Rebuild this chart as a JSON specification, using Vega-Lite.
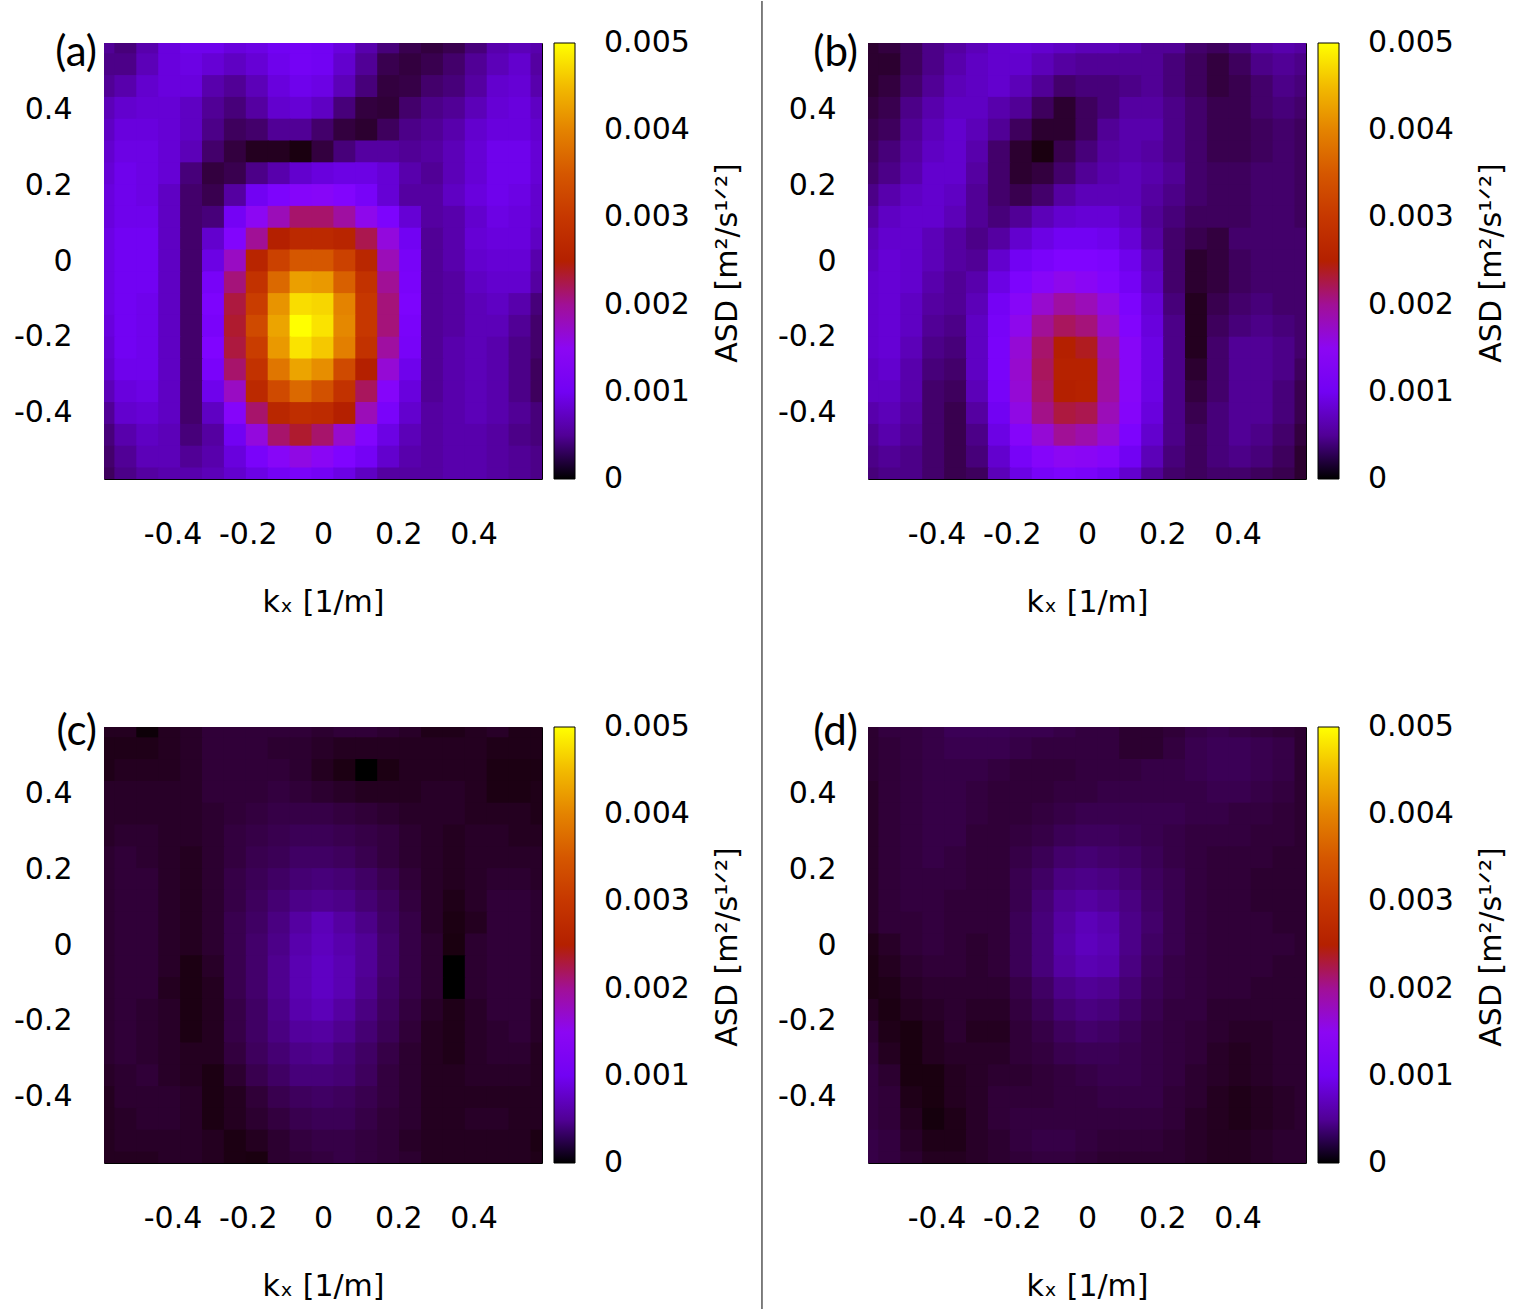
{
 "$schema": "https://vega.github.io/schema/vega-lite/v6.json",
 "padding": {"left": 13, "top": 0, "right": 0, "bottom": 0},
 "background": "white",
 "datasets": {
  "a": [
   {"ky":0.577,"kx":[-0.582,-0.5238,-0.4656,-0.4074,-0.3492,-0.291,-0.2328,-0.1746,-0.1164,-0.0582,0,0.0582,0.1164,0.1746,0.2328,0.291,0.3492,0.4074,0.4656,0.5238,0.582],"v":[0.0005,0.0004,0.0006,0.00085,0.00095,0.00095,0.00085,0.0009,0.001,0.00105,0.001,0.00085,0.0006,0.0004,0.00025,0.0002,0.00025,0.0004,0.0006,0.00065,0.0006]},
   {"ky":0.5193,"kx":[-0.582,-0.5238,-0.4656,-0.4074,-0.3492,-0.291,-0.2328,-0.1746,-0.1164,-0.0582,0,0.0582,0.1164,0.1746,0.2328,0.291,0.3492,0.4074,0.4656,0.5238,0.582],"v":[0.00045,0.00045,0.00065,0.00085,0.0009,0.0008,0.0007,0.0008,0.00095,0.00105,0.001,0.00075,0.0005,0.00025,0.0002,0.00025,0.00035,0.0005,0.00065,0.00075,0.00055]},
   {"ky":0.4616,"kx":[-0.582,-0.5238,-0.4656,-0.4074,-0.3492,-0.291,-0.2328,-0.1746,-0.1164,-0.0582,0,0.0582,0.1164,0.1746,0.2328,0.291,0.3492,0.4074,0.4656,0.5238,0.582],"v":[0.0005,0.0006,0.00075,0.00085,0.00085,0.0006,0.0005,0.00065,0.00085,0.00095,0.0009,0.00065,0.0004,0.0002,0.000225,0.00035,0.0004,0.00055,0.00075,0.0008,0.0006]},
   {"ky":0.4039,"kx":[-0.582,-0.5238,-0.4656,-0.4074,-0.3492,-0.291,-0.2328,-0.1746,-0.1164,-0.0582,0,0.0582,0.1164,0.1746,0.2328,0.291,0.3492,0.4074,0.4656,0.5238,0.582],"v":[0.00065,0.00075,0.0008,0.0008,0.0007,0.0005,0.0004,0.00055,0.00075,0.0008,0.0007,0.0004,0.0002,0.000175,0.00035,0.00045,0.0005,0.00065,0.0008,0.00085,0.0007]},
   {"ky":0.3462,"kx":[-0.582,-0.5238,-0.4656,-0.4074,-0.3492,-0.291,-0.2328,-0.1746,-0.1164,-0.0582,0,0.0582,0.1164,0.1746,0.2328,0.291,0.3492,0.4074,0.4656,0.5238,0.582],"v":[0.0007,0.00085,0.00085,0.0008,0.0007,0.00045,0.0003,0.00035,0.0005,0.0005,0.00035,0.0002,0.00015,0.0003,0.00045,0.0005,0.0006,0.00075,0.00085,0.00085,0.00075]},
   {"ky":0.2885,"kx":[-0.582,-0.5238,-0.4656,-0.4074,-0.3492,-0.291,-0.2328,-0.1746,-0.1164,-0.0582,0,0.0582,0.1164,0.1746,0.2328,0.291,0.3492,0.4074,0.4656,0.5238,0.582],"v":[0.00075,0.0009,0.0009,0.0008,0.00065,0.00035,0.0002,0.0001,0.0001,0.00005,0.0002,0.0004,0.00055,0.00055,0.0005,0.00055,0.00065,0.0008,0.00095,0.00095,0.0008]},
   {"ky":0.2308,"kx":[-0.582,-0.5238,-0.4656,-0.4074,-0.3492,-0.291,-0.2328,-0.1746,-0.1164,-0.0582,0,0.0582,0.1164,0.1746,0.2328,0.291,0.3492,0.4074,0.4656,0.5238,0.582],"v":[0.0008,0.00095,0.0009,0.0008,0.0004,0.0002,0.00025,0.00045,0.0006,0.00075,0.00085,0.0009,0.0009,0.0008,0.0006,0.0005,0.00065,0.0008,0.00095,0.00095,0.0008]},
   {"ky":0.1731,"kx":[-0.582,-0.5238,-0.4656,-0.4074,-0.3492,-0.291,-0.2328,-0.1746,-0.1164,-0.0582,0,0.0582,0.1164,0.1746,0.2328,0.291,0.3492,0.4074,0.4656,0.5238,0.582],"v":[0.00085,0.00095,0.0009,0.0007,0.00035,0.00025,0.00055,0.001,0.0012,0.00135,0.0014,0.0013,0.0011,0.0008,0.00055,0.00055,0.0007,0.00085,0.00095,0.0009,0.00075]},
   {"ky":0.1154,"kx":[-0.582,-0.5238,-0.4656,-0.4074,-0.3492,-0.291,-0.2328,-0.1746,-0.1164,-0.0582,0,0.0582,0.1164,0.1746,0.2328,0.291,0.3492,0.4074,0.4656,0.5238,0.582],"v":[0.00085,0.00095,0.00095,0.0007,0.00035,0.0004,0.00105,0.0015,0.00185,0.00215,0.00215,0.00195,0.00155,0.0012,0.0008,0.00055,0.0006,0.00075,0.0009,0.00085,0.00075]},
   {"ky":0.0577,"kx":[-0.582,-0.5238,-0.4656,-0.4074,-0.3492,-0.291,-0.2328,-0.1746,-0.1164,-0.0582,0,0.0582,0.1164,0.1746,0.2328,0.291,0.3492,0.4074,0.4656,0.5238,0.582],"v":[0.0009,0.001,0.001,0.0007,0.00035,0.00075,0.0013,0.002,0.0025,0.0027,0.0027,0.0026,0.00225,0.00165,0.001,0.0005,0.0006,0.0008,0.00085,0.00085,0.0007]},
   {"ky":0,"kx":[-0.582,-0.5238,-0.4656,-0.4074,-0.3492,-0.291,-0.2328,-0.1746,-0.1164,-0.0582,0,0.0582,0.1164,0.1746,0.2328,0.291,0.3492,0.4074,0.4656,0.5238,0.582],"v":[0.0009,0.001,0.001,0.0007,0.00035,0.0009,0.0018,0.0026,0.00315,0.0035,0.0035,0.00315,0.00265,0.00185,0.0011,0.0005,0.0006,0.00075,0.0008,0.0008,0.0006]},
   {"ky":-0.0577,"kx":[-0.582,-0.5238,-0.4656,-0.4074,-0.3492,-0.291,-0.2328,-0.1746,-0.1164,-0.0582,0,0.0582,0.1164,0.1746,0.2328,0.291,0.3492,0.4074,0.4656,0.5238,0.582],"v":[0.0009,0.001,0.001,0.0007,0.00035,0.0011,0.0021,0.0029,0.0037,0.00425,0.0042,0.0036,0.0029,0.002,0.00115,0.0005,0.00055,0.0007,0.00075,0.00075,0.00055]},
   {"ky":-0.1154,"kx":[-0.582,-0.5238,-0.4656,-0.4074,-0.3492,-0.291,-0.2328,-0.1746,-0.1164,-0.0582,0,0.0582,0.1164,0.1746,0.2328,0.291,0.3492,0.4074,0.4656,0.5238,0.582],"v":[0.0009,0.001,0.00095,0.0007,0.00035,0.0012,0.0023,0.0031,0.00415,0.00475,0.0047,0.004,0.003,0.0021,0.0012,0.0005,0.00055,0.00065,0.0007,0.0006,0.0004]},
   {"ky":-0.1731,"kx":[-0.582,-0.5238,-0.4656,-0.4074,-0.3492,-0.291,-0.2328,-0.1746,-0.1164,-0.0582,0,0.0582,0.1164,0.1746,0.2328,0.291,0.3492,0.4074,0.4656,0.5238,0.582],"v":[0.00085,0.001,0.00095,0.0007,0.00035,0.00115,0.00235,0.0033,0.0043,0.005,0.0048,0.00405,0.003,0.0021,0.00115,0.0005,0.00055,0.00065,0.00065,0.0005,0.00035]},
   {"ky":-0.2308,"kx":[-0.582,-0.5238,-0.4656,-0.4074,-0.3492,-0.291,-0.2328,-0.1746,-0.1164,-0.0582,0,0.0582,0.1164,0.1746,0.2328,0.291,0.3492,0.4074,0.4656,0.5238,0.582],"v":[0.0008,0.001,0.00095,0.0007,0.00035,0.00125,0.0023,0.0031,0.0042,0.0048,0.0046,0.00395,0.0029,0.00195,0.0011,0.0005,0.0006,0.00065,0.0006,0.00045,0.00035]},
   {"ky":-0.2885,"kx":[-0.582,-0.5238,-0.4656,-0.4074,-0.3492,-0.291,-0.2328,-0.1746,-0.1164,-0.0582,0,0.0582,0.1164,0.1746,0.2328,0.291,0.3492,0.4074,0.4656,0.5238,0.582],"v":[0.00075,0.00095,0.00095,0.0007,0.00035,0.00115,0.00215,0.0029,0.00385,0.0043,0.0041,0.0033,0.0025,0.0017,0.00095,0.0005,0.0006,0.00065,0.0006,0.00045,0.0003]},
   {"ky":-0.3462,"kx":[-0.582,-0.5238,-0.4656,-0.4074,-0.3492,-0.291,-0.2328,-0.1746,-0.1164,-0.0582,0,0.0582,0.1164,0.1746,0.2328,0.291,0.3492,0.4074,0.4656,0.5238,0.582],"v":[0.00065,0.00085,0.0009,0.0007,0.00035,0.00095,0.0018,0.0027,0.0033,0.0037,0.0034,0.0029,0.0022,0.00135,0.00085,0.0005,0.0006,0.00065,0.0006,0.00045,0.0003]},
   {"ky":-0.4039,"kx":[-0.582,-0.5238,-0.4656,-0.4074,-0.3492,-0.291,-0.2328,-0.1746,-0.1164,-0.0582,0,0.0582,0.1164,0.1746,0.2328,0.291,0.3492,0.4074,0.4656,0.5238,0.582],"v":[0.0005,0.00075,0.0008,0.0007,0.00035,0.0007,0.00135,0.00215,0.00265,0.0028,0.00275,0.0025,0.00185,0.00115,0.00075,0.00055,0.0006,0.00065,0.0006,0.0005,0.0004]},
   {"ky":-0.4616,"kx":[-0.582,-0.5238,-0.4656,-0.4074,-0.3492,-0.291,-0.2328,-0.1746,-0.1164,-0.0582,0,0.0582,0.1164,0.1746,0.2328,0.291,0.3492,0.4074,0.4656,0.5238,0.582],"v":[0.0004,0.0006,0.0007,0.00065,0.0004,0.00055,0.001,0.00165,0.00215,0.00235,0.00215,0.00175,0.0013,0.0009,0.00065,0.00055,0.0006,0.0006,0.00055,0.00045,0.0004]},
   {"ky":-0.5193,"kx":[-0.582,-0.5238,-0.4656,-0.4074,-0.3492,-0.291,-0.2328,-0.1746,-0.1164,-0.0582,0,0.0582,0.1164,0.1746,0.2328,0.291,0.3492,0.4074,0.4656,0.5238,0.582],"v":[0.00035,0.0005,0.00065,0.00065,0.0005,0.0006,0.00085,0.00115,0.0014,0.0016,0.00145,0.00125,0.00105,0.00075,0.0006,0.00055,0.0006,0.0006,0.00055,0.0005,0.00045]},
   {"ky":-0.577,"kx":[-0.582,-0.5238,-0.4656,-0.4074,-0.3492,-0.291,-0.2328,-0.1746,-0.1164,-0.0582,0,0.0582,0.1164,0.1746,0.2328,0.291,0.3492,0.4074,0.4656,0.5238,0.582],"v":[0.0003,0.00045,0.00055,0.0006,0.0006,0.00065,0.00075,0.0009,0.00105,0.00115,0.00105,0.0009,0.0007,0.00055,0.00055,0.00055,0.0006,0.0006,0.00055,0.0005,0.00045]}
  ],
  "b": [
   {"ky":0.577,"kx":[-0.582,-0.5238,-0.4656,-0.4074,-0.3492,-0.291,-0.2328,-0.1746,-0.1164,-0.0582,0,0.0582,0.1164,0.1746,0.2328,0.291,0.3492,0.4074,0.4656,0.5238,0.582],"v":[0.00015,0.0002,0.0003,0.00045,0.00055,0.00065,0.00075,0.0008,0.00075,0.0007,0.00065,0.00065,0.0006,0.0005,0.0005,0.00035,0.0003,0.0004,0.00055,0.0006,0.00055]},
   {"ky":0.5193,"kx":[-0.582,-0.5238,-0.4656,-0.4074,-0.3492,-0.291,-0.2328,-0.1746,-0.1164,-0.0582,0,0.0582,0.1164,0.1746,0.2328,0.291,0.3492,0.4074,0.4656,0.5238,0.582],"v":[0.00015,0.00015,0.0003,0.00045,0.0006,0.0007,0.00075,0.00075,0.00065,0.00055,0.0005,0.0005,0.0005,0.0005,0.0004,0.0003,0.0002,0.0003,0.00045,0.0005,0.00045]},
   {"ky":0.4616,"kx":[-0.582,-0.5238,-0.4656,-0.4074,-0.3492,-0.291,-0.2328,-0.1746,-0.1164,-0.0582,0,0.0582,0.1164,0.1746,0.2328,0.291,0.3492,0.4074,0.4656,0.5238,0.582],"v":[0.00015,0.0002,0.00035,0.0005,0.00065,0.0007,0.00075,0.00065,0.0005,0.00035,0.0004,0.0004,0.00045,0.0005,0.0004,0.0003,0.0002,0.00025,0.00035,0.00045,0.0004]},
   {"ky":0.4039,"kx":[-0.582,-0.5238,-0.4656,-0.4074,-0.3492,-0.291,-0.2328,-0.1746,-0.1164,-0.0582,0,0.0582,0.1164,0.1746,0.2328,0.291,0.3492,0.4074,0.4656,0.5238,0.582],"v":[0.0002,0.00025,0.00045,0.0006,0.0007,0.0007,0.0006,0.0005,0.0003,0.00015,0.0003,0.0004,0.00055,0.00055,0.00045,0.00035,0.00025,0.00025,0.00035,0.0004,0.00035]},
   {"ky":0.3462,"kx":[-0.582,-0.5238,-0.4656,-0.4074,-0.3492,-0.291,-0.2328,-0.1746,-0.1164,-0.0582,0,0.0582,0.1164,0.1746,0.2328,0.291,0.3492,0.4074,0.4656,0.5238,0.582],"v":[0.00025,0.0003,0.0005,0.00065,0.00075,0.00065,0.0005,0.0003,0.00015,0.00015,0.0003,0.0005,0.0006,0.0006,0.00045,0.00035,0.00025,0.00025,0.0003,0.00035,0.0003]},
   {"ky":0.2885,"kx":[-0.582,-0.5238,-0.4656,-0.4074,-0.3492,-0.291,-0.2328,-0.1746,-0.1164,-0.0582,0,0.0582,0.1164,0.1746,0.2328,0.291,0.3492,0.4074,0.4656,0.5238,0.582],"v":[0.0003,0.0004,0.00055,0.0007,0.00075,0.0006,0.00035,0.00015,0.00005,0.00025,0.0004,0.00055,0.0006,0.00055,0.00045,0.00035,0.00025,0.00025,0.0003,0.00035,0.0003]},
   {"ky":0.2308,"kx":[-0.582,-0.5238,-0.4656,-0.4074,-0.3492,-0.291,-0.2328,-0.1746,-0.1164,-0.0582,0,0.0582,0.1164,0.1746,0.2328,0.291,0.3492,0.4074,0.4656,0.5238,0.582],"v":[0.00035,0.00045,0.0006,0.00075,0.00075,0.00055,0.00035,0.00015,0.0002,0.00035,0.0005,0.0006,0.00065,0.0006,0.0005,0.00035,0.0003,0.0003,0.00035,0.00035,0.0003]},
   {"ky":0.1731,"kx":[-0.582,-0.5238,-0.4656,-0.4074,-0.3492,-0.291,-0.2328,-0.1746,-0.1164,-0.0582,0,0.0582,0.1164,0.1746,0.2328,0.291,0.3492,0.4074,0.4656,0.5238,0.582],"v":[0.00045,0.0006,0.0007,0.00075,0.0007,0.0005,0.00035,0.00025,0.00035,0.00055,0.00065,0.00065,0.00065,0.00055,0.00045,0.00035,0.0003,0.0003,0.00035,0.00035,0.0003]},
   {"ky":0.1154,"kx":[-0.582,-0.5238,-0.4656,-0.4074,-0.3492,-0.291,-0.2328,-0.1746,-0.1164,-0.0582,0,0.0582,0.1164,0.1746,0.2328,0.291,0.3492,0.4074,0.4656,0.5238,0.582],"v":[0.00055,0.0007,0.00075,0.00075,0.00065,0.0005,0.0004,0.0005,0.00065,0.00075,0.0008,0.0008,0.0007,0.0005,0.0004,0.0003,0.0003,0.0003,0.00035,0.00035,0.0003]},
   {"ky":0.0577,"kx":[-0.582,-0.5238,-0.4656,-0.4074,-0.3492,-0.291,-0.2328,-0.1746,-0.1164,-0.0582,0,0.0582,0.1164,0.1746,0.2328,0.291,0.3492,0.4074,0.4656,0.5238,0.582],"v":[0.00065,0.00075,0.00075,0.00065,0.00055,0.00045,0.00055,0.00075,0.0009,0.001,0.001,0.00095,0.0008,0.00055,0.00035,0.00025,0.0002,0.00035,0.00035,0.00035,0.00035]},
   {"ky":0,"kx":[-0.582,-0.5238,-0.4656,-0.4074,-0.3492,-0.291,-0.2328,-0.1746,-0.1164,-0.0582,0,0.0582,0.1164,0.1746,0.2328,0.291,0.3492,0.4074,0.4656,0.5238,0.582],"v":[0.0007,0.0008,0.00075,0.00065,0.00055,0.0005,0.00075,0.001,0.00115,0.00125,0.00125,0.0012,0.00095,0.00065,0.00035,0.00015,0.0002,0.0003,0.00035,0.00035,0.00035]},
   {"ky":-0.0577,"kx":[-0.582,-0.5238,-0.4656,-0.4074,-0.3492,-0.291,-0.2328,-0.1746,-0.1164,-0.0582,0,0.0582,0.1164,0.1746,0.2328,0.291,0.3492,0.4074,0.4656,0.5238,0.582],"v":[0.00075,0.0008,0.00075,0.0006,0.0005,0.0006,0.0009,0.0012,0.0014,0.00155,0.00145,0.0013,0.00105,0.0007,0.00035,0.00015,0.0002,0.0003,0.00035,0.00035,0.00035]},
   {"ky":-0.1154,"kx":[-0.582,-0.5238,-0.4656,-0.4074,-0.3492,-0.291,-0.2328,-0.1746,-0.1164,-0.0582,0,0.0582,0.1164,0.1746,0.2328,0.291,0.3492,0.4074,0.4656,0.5238,0.582],"v":[0.00075,0.0008,0.0007,0.00055,0.0005,0.00065,0.00105,0.0014,0.00175,0.00195,0.00185,0.0016,0.0012,0.0008,0.0004,0.0001,0.00025,0.00035,0.0004,0.00035,0.00035]},
   {"ky":-0.1731,"kx":[-0.582,-0.5238,-0.4656,-0.4074,-0.3492,-0.291,-0.2328,-0.1746,-0.1164,-0.0582,0,0.0582,0.1164,0.1746,0.2328,0.291,0.3492,0.4074,0.4656,0.5238,0.582],"v":[0.00075,0.0008,0.0007,0.0005,0.00045,0.0007,0.0011,0.00155,0.002,0.0022,0.0021,0.00175,0.0013,0.00085,0.00045,0.0001,0.0003,0.0004,0.00045,0.0004,0.00035]},
   {"ky":-0.2308,"kx":[-0.582,-0.5238,-0.4656,-0.4074,-0.3492,-0.291,-0.2328,-0.1746,-0.1164,-0.0582,0,0.0582,0.1164,0.1746,0.2328,0.291,0.3492,0.4074,0.4656,0.5238,0.582],"v":[0.00075,0.0008,0.00065,0.00045,0.0004,0.0007,0.00115,0.0017,0.00215,0.0025,0.0024,0.0019,0.0014,0.0009,0.00045,0.0001,0.00035,0.0005,0.0005,0.00045,0.00035]},
   {"ky":-0.2885,"kx":[-0.582,-0.5238,-0.4656,-0.4074,-0.3492,-0.291,-0.2328,-0.1746,-0.1164,-0.0582,0,0.0582,0.1164,0.1746,0.2328,0.291,0.3492,0.4074,0.4656,0.5238,0.582],"v":[0.0007,0.00075,0.0006,0.0004,0.00035,0.0007,0.00115,0.00175,0.0022,0.00255,0.00255,0.00195,0.0014,0.0009,0.00045,0.00015,0.00035,0.0005,0.0005,0.00045,0.0003]},
   {"ky":-0.3462,"kx":[-0.582,-0.5238,-0.4656,-0.4074,-0.3492,-0.291,-0.2328,-0.1746,-0.1164,-0.0582,0,0.0582,0.1164,0.1746,0.2328,0.291,0.3492,0.4074,0.4656,0.5238,0.582],"v":[0.0007,0.0007,0.0006,0.00035,0.0003,0.00065,0.0011,0.0017,0.00215,0.0025,0.00255,0.00195,0.0014,0.0009,0.00045,0.0002,0.00035,0.0005,0.0005,0.0004,0.00025]},
   {"ky":-0.4039,"kx":[-0.582,-0.5238,-0.4656,-0.4074,-0.3492,-0.291,-0.2328,-0.1746,-0.1164,-0.0582,0,0.0582,0.1164,0.1746,0.2328,0.291,0.3492,0.4074,0.4656,0.5238,0.582],"v":[0.0006,0.00065,0.00055,0.00035,0.00025,0.00055,0.001,0.0016,0.00205,0.0023,0.00225,0.00185,0.00135,0.00085,0.00045,0.00025,0.0004,0.0005,0.0005,0.0004,0.00025]},
   {"ky":-0.4616,"kx":[-0.582,-0.5238,-0.4656,-0.4074,-0.3492,-0.291,-0.2328,-0.1746,-0.1164,-0.0582,0,0.0582,0.1164,0.1746,0.2328,0.291,0.3492,0.4074,0.4656,0.5238,0.582],"v":[0.0005,0.0006,0.0005,0.00035,0.00025,0.00045,0.0009,0.00135,0.0017,0.002,0.0019,0.0017,0.0012,0.00075,0.00045,0.0003,0.0004,0.0005,0.00045,0.00035,0.0002]},
   {"ky":-0.5193,"kx":[-0.582,-0.5238,-0.4656,-0.4074,-0.3492,-0.291,-0.2328,-0.1746,-0.1164,-0.0582,0,0.0582,0.1164,0.1746,0.2328,0.291,0.3492,0.4074,0.4656,0.5238,0.582],"v":[0.00045,0.0005,0.00045,0.00035,0.00025,0.0004,0.00075,0.0011,0.00135,0.0015,0.00145,0.00135,0.001,0.00065,0.0004,0.0003,0.0004,0.00045,0.0004,0.0003,0.00015]},
   {"ky":-0.577,"kx":[-0.582,-0.5238,-0.4656,-0.4074,-0.3492,-0.291,-0.2328,-0.1746,-0.1164,-0.0582,0,0.0582,0.1164,0.1746,0.2328,0.291,0.3492,0.4074,0.4656,0.5238,0.582],"v":[0.0004,0.00045,0.00045,0.00035,0.00025,0.0003,0.00065,0.0009,0.0011,0.0012,0.00115,0.001,0.00075,0.0005,0.00035,0.0003,0.00035,0.00035,0.0003,0.00025,0.00015]}
  ],
  "c": [
   {"ky":0.577,"kx":[-0.582,-0.5238,-0.4656,-0.4074,-0.3492,-0.291,-0.2328,-0.1746,-0.1164,-0.0582,0,0.0582,0.1164,0.1746,0.2328,0.291,0.3492,0.4074,0.4656,0.5238,0.582],"v":[0.0001,0.0001,0.000025,0.0001,0.000125,0.000175,0.000175,0.000175,0.000175,0.000175,0.00015,0.000175,0.000175,0.00015,0.000125,0.000075,0.000075,0.0001,0.000125,0.000075,0.000075]},
   {"ky":0.5193,"kx":[-0.582,-0.5238,-0.4656,-0.4074,-0.3492,-0.291,-0.2328,-0.1746,-0.1164,-0.0582,0,0.0582,0.1164,0.1746,0.2328,0.291,0.3492,0.4074,0.4656,0.5238,0.582],"v":[0.000075,0.000075,0.000075,0.0001,0.000125,0.000175,0.000175,0.000175,0.00015,0.00015,0.000125,0.0001,0.0001,0.0001,0.0001,0.0001,0.0001,0.0001,0.000075,0.000075,0.000075]},
   {"ky":0.4616,"kx":[-0.582,-0.5238,-0.4656,-0.4074,-0.3492,-0.291,-0.2328,-0.1746,-0.1164,-0.0582,0,0.0582,0.1164,0.1746,0.2328,0.291,0.3492,0.4074,0.4656,0.5238,0.582],"v":[0.000075,0.0001,0.0001,0.0001,0.000125,0.000175,0.000175,0.000175,0.000175,0.00015,0.0001,0.00006,0,0.00006,0.0001,0.0001,0.0001,0.0001,0.00006,0.00006,0.00006]},
   {"ky":0.4039,"kx":[-0.582,-0.5238,-0.4656,-0.4074,-0.3492,-0.291,-0.2328,-0.1746,-0.1164,-0.0582,0,0.0582,0.1164,0.1746,0.2328,0.291,0.3492,0.4074,0.4656,0.5238,0.582],"v":[0.000125,0.000125,0.000125,0.000125,0.000125,0.000175,0.000175,0.000175,0.0002,0.000175,0.00015,0.000125,0.0001,0.0001,0.0001,0.000125,0.000125,0.0001,0.00006,0.00006,0.000075]},
   {"ky":0.3462,"kx":[-0.582,-0.5238,-0.4656,-0.4074,-0.3492,-0.291,-0.2328,-0.1746,-0.1164,-0.0582,0,0.0582,0.1164,0.1746,0.2328,0.291,0.3492,0.4074,0.4656,0.5238,0.582],"v":[0.000125,0.000125,0.000125,0.000125,0.000125,0.00015,0.000175,0.0002,0.000225,0.000225,0.000225,0.0002,0.000175,0.00015,0.000125,0.000125,0.000125,0.0001,0.0001,0.0001,0.000075]},
   {"ky":0.2885,"kx":[-0.582,-0.5238,-0.4656,-0.4074,-0.3492,-0.291,-0.2328,-0.1746,-0.1164,-0.0582,0,0.0582,0.1164,0.1746,0.2328,0.291,0.3492,0.4074,0.4656,0.5238,0.582],"v":[0.000125,0.00015,0.00015,0.000125,0.000125,0.00015,0.0002,0.000225,0.00025,0.000275,0.000275,0.00025,0.000225,0.0002,0.00015,0.000125,0.0001,0.000125,0.000125,0.0001,0.0001]},
   {"ky":0.2308,"kx":[-0.582,-0.5238,-0.4656,-0.4074,-0.3492,-0.291,-0.2328,-0.1746,-0.1164,-0.0582,0,0.0582,0.1164,0.1746,0.2328,0.291,0.3492,0.4074,0.4656,0.5238,0.582],"v":[0.00015,0.000175,0.00015,0.000125,0.0001,0.00015,0.0002,0.00025,0.000275,0.000325,0.000325,0.0003,0.00025,0.0002,0.00015,0.000125,0.0001,0.000125,0.000125,0.000125,0.000125]},
   {"ky":0.1731,"kx":[-0.582,-0.5238,-0.4656,-0.4074,-0.3492,-0.291,-0.2328,-0.1746,-0.1164,-0.0582,0,0.0582,0.1164,0.1746,0.2328,0.291,0.3492,0.4074,0.4656,0.5238,0.582],"v":[0.00015,0.000175,0.000175,0.000125,0.0001,0.00015,0.000225,0.000275,0.000325,0.000375,0.0004,0.000375,0.000325,0.00025,0.000175,0.000125,0.0001,0.000125,0.00015,0.00015,0.000125]},
   {"ky":0.1154,"kx":[-0.582,-0.5238,-0.4656,-0.4074,-0.3492,-0.291,-0.2328,-0.1746,-0.1164,-0.0582,0,0.0582,0.1164,0.1746,0.2328,0.291,0.3492,0.4074,0.4656,0.5238,0.582],"v":[0.00015,0.000175,0.000175,0.000125,0.0001,0.00015,0.000225,0.0003,0.000375,0.00045,0.000475,0.00045,0.000375,0.0003,0.0002,0.000125,0.000075,0.000125,0.000175,0.000175,0.00015]},
   {"ky":0.0577,"kx":[-0.582,-0.5238,-0.4656,-0.4074,-0.3492,-0.291,-0.2328,-0.1746,-0.1164,-0.0582,0,0.0582,0.1164,0.1746,0.2328,0.291,0.3492,0.4074,0.4656,0.5238,0.582],"v":[0.00015,0.000175,0.000175,0.000125,0.0001,0.00015,0.00025,0.000325,0.000425,0.00055,0.00065,0.00055,0.00045,0.000325,0.000225,0.000125,0.00006,0.0001,0.000175,0.000175,0.00015]},
   {"ky":0,"kx":[-0.582,-0.5238,-0.4656,-0.4074,-0.3492,-0.291,-0.2328,-0.1746,-0.1164,-0.0582,0,0.0582,0.1164,0.1746,0.2328,0.291,0.3492,0.4074,0.4656,0.5238,0.582],"v":[0.00015,0.000175,0.000175,0.000125,0.0001,0.00015,0.00025,0.00035,0.00045,0.0006,0.000675,0.0006,0.0005,0.00035,0.000225,0.00015,0.00005,0.00015,0.000175,0.000175,0.00015]},
   {"ky":-0.0577,"kx":[-0.582,-0.5238,-0.4656,-0.4074,-0.3492,-0.291,-0.2328,-0.1746,-0.1164,-0.0582,0,0.0582,0.1164,0.1746,0.2328,0.291,0.3492,0.4074,0.4656,0.5238,0.582],"v":[0.00015,0.000175,0.000175,0.000125,0.00006,0.000125,0.00025,0.00035,0.000475,0.000625,0.0007,0.000625,0.0005,0.00035,0.000225,0.00015,0,0.00015,0.000175,0.000175,0.00015]},
   {"ky":-0.1154,"kx":[-0.582,-0.5238,-0.4656,-0.4074,-0.3492,-0.291,-0.2328,-0.1746,-0.1164,-0.0582,0,0.0582,0.1164,0.1746,0.2328,0.291,0.3492,0.4074,0.4656,0.5238,0.582],"v":[0.00015,0.000175,0.000175,0.0001,0.00006,0.0001,0.00025,0.00035,0.000475,0.000625,0.0007,0.000625,0.000475,0.000325,0.000225,0.00015,0,0.00015,0.000175,0.000175,0.00015]},
   {"ky":-0.1731,"kx":[-0.582,-0.5238,-0.4656,-0.4074,-0.3492,-0.291,-0.2328,-0.1746,-0.1164,-0.0582,0,0.0582,0.1164,0.1746,0.2328,0.291,0.3492,0.4074,0.4656,0.5238,0.582],"v":[0.00015,0.000175,0.00015,0.000125,0.00006,0.0001,0.000225,0.000325,0.00045,0.0006,0.00065,0.00055,0.000425,0.0003,0.0002,0.000125,0.000075,0.000125,0.000175,0.000175,0.000125]},
   {"ky":-0.2308,"kx":[-0.582,-0.5238,-0.4656,-0.4074,-0.3492,-0.291,-0.2328,-0.1746,-0.1164,-0.0582,0,0.0582,0.1164,0.1746,0.2328,0.291,0.3492,0.4074,0.4656,0.5238,0.582],"v":[0.00015,0.000175,0.00015,0.000125,0.00006,0.0001,0.000225,0.000325,0.000425,0.000525,0.00055,0.000475,0.000375,0.000275,0.000175,0.0001,0.000075,0.000125,0.00015,0.000175,0.000125]},
   {"ky":-0.2885,"kx":[-0.582,-0.5238,-0.4656,-0.4074,-0.3492,-0.291,-0.2328,-0.1746,-0.1164,-0.0582,0,0.0582,0.1164,0.1746,0.2328,0.291,0.3492,0.4074,0.4656,0.5238,0.582],"v":[0.00015,0.000175,0.00015,0.000125,0.0001,0.0001,0.0002,0.0003,0.000375,0.00045,0.000475,0.0004,0.000325,0.000225,0.00015,0.0001,0.000075,0.000125,0.00015,0.00015,0.0001]},
   {"ky":-0.3462,"kx":[-0.582,-0.5238,-0.4656,-0.4074,-0.3492,-0.291,-0.2328,-0.1746,-0.1164,-0.0582,0,0.0582,0.1164,0.1746,0.2328,0.291,0.3492,0.4074,0.4656,0.5238,0.582],"v":[0.000125,0.00015,0.000175,0.000125,0.0001,0.00006,0.00015,0.00025,0.000325,0.0004,0.0004,0.000375,0.0003,0.0002,0.00015,0.0001,0.0001,0.000125,0.000125,0.000125,0.0001]},
   {"ky":-0.4039,"kx":[-0.582,-0.5238,-0.4656,-0.4074,-0.3492,-0.291,-0.2328,-0.1746,-0.1164,-0.0582,0,0.0582,0.1164,0.1746,0.2328,0.291,0.3492,0.4074,0.4656,0.5238,0.582],"v":[0.0001,0.00015,0.00015,0.00015,0.000125,0.00006,0.0001,0.000175,0.00025,0.0003,0.000325,0.0003,0.00025,0.0002,0.00015,0.0001,0.0001,0.0001,0.0001,0.0001,0.0001]},
   {"ky":-0.4616,"kx":[-0.582,-0.5238,-0.4656,-0.4074,-0.3492,-0.291,-0.2328,-0.1746,-0.1164,-0.0582,0,0.0582,0.1164,0.1746,0.2328,0.291,0.3492,0.4074,0.4656,0.5238,0.582],"v":[0.0001,0.000125,0.00015,0.00015,0.000125,0.00006,0.0001,0.00015,0.0002,0.00025,0.000275,0.000275,0.000225,0.000175,0.00015,0.0001,0.0001,0.000125,0.000125,0.0001,0.0001]},
   {"ky":-0.5193,"kx":[-0.582,-0.5238,-0.4656,-0.4074,-0.3492,-0.291,-0.2328,-0.1746,-0.1164,-0.0582,0,0.0582,0.1164,0.1746,0.2328,0.291,0.3492,0.4074,0.4656,0.5238,0.582],"v":[0.0001,0.000125,0.000125,0.000125,0.000125,0.0001,0.00006,0.0001,0.00015,0.0002,0.000225,0.000225,0.0002,0.000175,0.000125,0.0001,0.0001,0.0001,0.0001,0.0001,0.00006]},
   {"ky":-0.577,"kx":[-0.582,-0.5238,-0.4656,-0.4074,-0.3492,-0.291,-0.2328,-0.1746,-0.1164,-0.0582,0,0.0582,0.1164,0.1746,0.2328,0.291,0.3492,0.4074,0.4656,0.5238,0.582],"v":[0.0001,0.0001,0.0001,0.000125,0.000125,0.0001,0.00006,0.00005,0.00015,0.000175,0.0002,0.000225,0.0002,0.000175,0.00015,0.0001,0.0001,0.0001,0.0001,0.0001,0.000075]}
  ],
  "d": [
   {"ky":0.577,"kx":[-0.582,-0.5238,-0.4656,-0.4074,-0.3492,-0.291,-0.2328,-0.1746,-0.1164,-0.0582,0,0.0582,0.1164,0.1746,0.2328,0.291,0.3492,0.4074,0.4656,0.5238,0.582],"v":[0.00015,0.0002,0.0002,0.000225,0.000275,0.000275,0.000275,0.00025,0.00025,0.000225,0.0002,0.0002,0.00015,0.00015,0.000175,0.000225,0.00025,0.000225,0.0002,0.000175,0.00015]},
   {"ky":0.5193,"kx":[-0.582,-0.5238,-0.4656,-0.4074,-0.3492,-0.291,-0.2328,-0.1746,-0.1164,-0.0582,0,0.0582,0.1164,0.1746,0.2328,0.291,0.3492,0.4074,0.4656,0.5238,0.582],"v":[0.00015,0.000175,0.0002,0.000225,0.00025,0.00025,0.00025,0.000225,0.0002,0.0002,0.0002,0.0002,0.00015,0.00015,0.0002,0.00025,0.000275,0.000275,0.00025,0.000225,0.00015]},
   {"ky":0.4616,"kx":[-0.582,-0.5238,-0.4656,-0.4074,-0.3492,-0.291,-0.2328,-0.1746,-0.1164,-0.0582,0,0.0582,0.1164,0.1746,0.2328,0.291,0.3492,0.4074,0.4656,0.5238,0.582],"v":[0.00015,0.000175,0.0002,0.000225,0.000225,0.000225,0.0002,0.000175,0.000175,0.000175,0.0002,0.0002,0.0002,0.000225,0.000225,0.00025,0.000275,0.000275,0.00025,0.000225,0.00015]},
   {"ky":0.4039,"kx":[-0.582,-0.5238,-0.4656,-0.4074,-0.3492,-0.291,-0.2328,-0.1746,-0.1164,-0.0582,0,0.0582,0.1164,0.1746,0.2328,0.291,0.3492,0.4074,0.4656,0.5238,0.582],"v":[0.000125,0.000175,0.0002,0.000225,0.000225,0.0002,0.000175,0.000175,0.000175,0.0002,0.0002,0.000225,0.000225,0.000225,0.000225,0.000225,0.00025,0.00025,0.000225,0.0002,0.00015]},
   {"ky":0.3462,"kx":[-0.582,-0.5238,-0.4656,-0.4074,-0.3492,-0.291,-0.2328,-0.1746,-0.1164,-0.0582,0,0.0582,0.1164,0.1746,0.2328,0.291,0.3492,0.4074,0.4656,0.5238,0.582],"v":[0.000125,0.000175,0.0002,0.000225,0.000225,0.0002,0.000175,0.000175,0.0002,0.000225,0.00025,0.00025,0.00025,0.00025,0.00025,0.000225,0.000225,0.0002,0.0002,0.000175,0.00015]},
   {"ky":0.2885,"kx":[-0.582,-0.5238,-0.4656,-0.4074,-0.3492,-0.291,-0.2328,-0.1746,-0.1164,-0.0582,0,0.0582,0.1164,0.1746,0.2328,0.291,0.3492,0.4074,0.4656,0.5238,0.582],"v":[0.000125,0.000175,0.0002,0.000225,0.000225,0.000175,0.000175,0.0002,0.000225,0.000275,0.0003,0.0003,0.000275,0.00025,0.000225,0.0002,0.0002,0.0002,0.000175,0.000175,0.00015]},
   {"ky":0.2308,"kx":[-0.582,-0.5238,-0.4656,-0.4074,-0.3492,-0.291,-0.2328,-0.1746,-0.1164,-0.0582,0,0.0582,0.1164,0.1746,0.2328,0.291,0.3492,0.4074,0.4656,0.5238,0.582],"v":[0.000125,0.000175,0.0002,0.000225,0.0002,0.000175,0.000175,0.000225,0.000275,0.00035,0.000375,0.00035,0.000325,0.000275,0.000225,0.0002,0.000175,0.000175,0.000175,0.00015,0.00015]},
   {"ky":0.1731,"kx":[-0.582,-0.5238,-0.4656,-0.4074,-0.3492,-0.291,-0.2328,-0.1746,-0.1164,-0.0582,0,0.0582,0.1164,0.1746,0.2328,0.291,0.3492,0.4074,0.4656,0.5238,0.582],"v":[0.000125,0.000175,0.0002,0.0002,0.0002,0.000175,0.000175,0.00025,0.000325,0.000425,0.00045,0.000425,0.000375,0.0003,0.00025,0.0002,0.000175,0.000175,0.00015,0.00015,0.00015]},
   {"ky":0.1154,"kx":[-0.582,-0.5238,-0.4656,-0.4074,-0.3492,-0.291,-0.2328,-0.1746,-0.1164,-0.0582,0,0.0582,0.1164,0.1746,0.2328,0.291,0.3492,0.4074,0.4656,0.5238,0.582],"v":[0.000125,0.000175,0.0002,0.0002,0.000175,0.000175,0.000175,0.00025,0.000375,0.0005,0.00055,0.0005,0.000425,0.000325,0.00025,0.0002,0.000175,0.000175,0.00015,0.00015,0.00015]},
   {"ky":0.0577,"kx":[-0.582,-0.5238,-0.4656,-0.4074,-0.3492,-0.291,-0.2328,-0.1746,-0.1164,-0.0582,0,0.0582,0.1164,0.1746,0.2328,0.291,0.3492,0.4074,0.4656,0.5238,0.582],"v":[0.000125,0.000175,0.000175,0.0002,0.000175,0.000175,0.000175,0.000275,0.0004,0.00055,0.00065,0.0006,0.00045,0.00035,0.00025,0.0002,0.000175,0.000175,0.000175,0.00015,0.00015]},
   {"ky":0,"kx":[-0.582,-0.5238,-0.4656,-0.4074,-0.3492,-0.291,-0.2328,-0.1746,-0.1164,-0.0582,0,0.0582,0.1164,0.1746,0.2328,0.291,0.3492,0.4074,0.4656,0.5238,0.582],"v":[0.000075,0.000125,0.000175,0.0002,0.000175,0.00015,0.000175,0.000275,0.0004,0.000575,0.000675,0.000625,0.00045,0.000325,0.00025,0.0002,0.000175,0.000175,0.000175,0.000175,0.00015]},
   {"ky":-0.0577,"kx":[-0.582,-0.5238,-0.4656,-0.4074,-0.3492,-0.291,-0.2328,-0.1746,-0.1164,-0.0582,0,0.0582,0.1164,0.1746,0.2328,0.291,0.3492,0.4074,0.4656,0.5238,0.582],"v":[0.00006,0.0001,0.00015,0.000175,0.000175,0.00015,0.000175,0.000275,0.0004,0.00055,0.000625,0.0006,0.000425,0.0003,0.000225,0.0002,0.000175,0.000175,0.000175,0.00015,0.00015]},
   {"ky":-0.1154,"kx":[-0.582,-0.5238,-0.4656,-0.4074,-0.3492,-0.291,-0.2328,-0.1746,-0.1164,-0.0582,0,0.0582,0.1164,0.1746,0.2328,0.291,0.3492,0.4074,0.4656,0.5238,0.582],"v":[0.00006,0.000075,0.000125,0.00015,0.00015,0.00015,0.00015,0.000225,0.000325,0.00045,0.0005,0.000475,0.000375,0.000275,0.000225,0.0002,0.000175,0.000175,0.00015,0.00015,0.00015]},
   {"ky":-0.1731,"kx":[-0.582,-0.5238,-0.4656,-0.4074,-0.3492,-0.291,-0.2328,-0.1746,-0.1164,-0.0582,0,0.0582,0.1164,0.1746,0.2328,0.291,0.3492,0.4074,0.4656,0.5238,0.582],"v":[0.0001,0.00006,0.0001,0.000125,0.00015,0.000125,0.000125,0.0002,0.000275,0.000375,0.000425,0.0004,0.000325,0.00025,0.0002,0.0002,0.00015,0.00015,0.00015,0.00015,0.00015]},
   {"ky":-0.2308,"kx":[-0.582,-0.5238,-0.4656,-0.4074,-0.3492,-0.291,-0.2328,-0.1746,-0.1164,-0.0582,0,0.0582,0.1164,0.1746,0.2328,0.291,0.3492,0.4074,0.4656,0.5238,0.582],"v":[0.00015,0.000075,0.00005,0.0001,0.00015,0.0001,0.0001,0.000175,0.000225,0.0003,0.00035,0.000325,0.000275,0.000225,0.0002,0.000175,0.00015,0.000125,0.000125,0.00015,0.00015]},
   {"ky":-0.2885,"kx":[-0.582,-0.5238,-0.4656,-0.4074,-0.3492,-0.291,-0.2328,-0.1746,-0.1164,-0.0582,0,0.0582,0.1164,0.1746,0.2328,0.291,0.3492,0.4074,0.4656,0.5238,0.582],"v":[0.000175,0.0001,0.00005,0.0001,0.000125,0.000125,0.000125,0.000175,0.0002,0.00025,0.000275,0.000275,0.00025,0.000225,0.0002,0.000175,0.000125,0.0001,0.000125,0.00015,0.00015]},
   {"ky":-0.3462,"kx":[-0.582,-0.5238,-0.4656,-0.4074,-0.3492,-0.291,-0.2328,-0.1746,-0.1164,-0.0582,0,0.0582,0.1164,0.1746,0.2328,0.291,0.3492,0.4074,0.4656,0.5238,0.582],"v":[0.0002,0.00015,0.00005,0.00005,0.0001,0.000125,0.00015,0.00015,0.000175,0.0002,0.000225,0.00025,0.00025,0.000225,0.0002,0.00015,0.000125,0.0001,0.000125,0.00015,0.00015]},
   {"ky":-0.4039,"kx":[-0.582,-0.5238,-0.4656,-0.4074,-0.3492,-0.291,-0.2328,-0.1746,-0.1164,-0.0582,0,0.0582,0.1164,0.1746,0.2328,0.291,0.3492,0.4074,0.4656,0.5238,0.582],"v":[0.0002,0.000175,0.000075,0.00005,0.0001,0.000125,0.000175,0.000175,0.000175,0.0002,0.0002,0.000225,0.000225,0.000225,0.000175,0.00015,0.0001,0.000075,0.0001,0.000125,0.00015]},
   {"ky":-0.4616,"kx":[-0.582,-0.5238,-0.4656,-0.4074,-0.3492,-0.291,-0.2328,-0.1746,-0.1164,-0.0582,0,0.0582,0.1164,0.1746,0.2328,0.291,0.3492,0.4074,0.4656,0.5238,0.582],"v":[0.0002,0.000175,0.0001,0.00004,0.000075,0.000125,0.000175,0.0002,0.0002,0.0002,0.0002,0.0002,0.0002,0.0002,0.000175,0.000125,0.0001,0.000075,0.0001,0.000125,0.00015]},
   {"ky":-0.5193,"kx":[-0.582,-0.5238,-0.4656,-0.4074,-0.3492,-0.291,-0.2328,-0.1746,-0.1164,-0.0582,0,0.0582,0.1164,0.1746,0.2328,0.291,0.3492,0.4074,0.4656,0.5238,0.582],"v":[0.000225,0.0002,0.000125,0.000075,0.000075,0.000125,0.00015,0.0002,0.000225,0.000225,0.0002,0.000175,0.000175,0.000175,0.00015,0.000125,0.0001,0.0001,0.000125,0.00015,0.00015]},
   {"ky":-0.577,"kx":[-0.582,-0.5238,-0.4656,-0.4074,-0.3492,-0.291,-0.2328,-0.1746,-0.1164,-0.0582,0,0.0582,0.1164,0.1746,0.2328,0.291,0.3492,0.4074,0.4656,0.5238,0.582],"v":[0.000225,0.0002,0.00015,0.0001,0.0001,0.000125,0.00015,0.000175,0.0002,0.0002,0.000175,0.00015,0.00015,0.00015,0.00015,0.000125,0.0001,0.0001,0.000125,0.00015,0.00015]}
  ]
 },
 "concat": [
  {
   "width": 438, "height": 436,
   "data": {"name": "a"},
   "transform": [{"flatten": ["kx", "v"]}],
   "layer": [
    {"mark": {"type": "rect", "width": 23, "height": 23, "clip": true},
     "encoding": {
      "x": {"field": "kx", "type": "quantitative", "title": "kₓ [1/m]", "scale": {"domain": [-0.582, 0.582], "nice": false, "zero": false}, "axis": {"orient": "bottom", "values": [-0.4, -0.2, 0, 0.2, 0.4], "labelPadding": 50}},
      "y": {"field": "ky", "type": "quantitative", "title": null, "scale": {"domain": [-0.577, 0.577], "nice": false, "zero": false}, "axis": {"orient": "left", "values": [-0.4, -0.2, 0, 0.2, 0.4], "labelPadding": 42}},
      "color": {"field": "v", "type": "quantitative", "title": null,
       "scale": {"domain": [0, 0.00005, 0.0001, 0.00015, 0.0002, 0.00025, 0.0005, 0.00075, 0.001, 0.00125, 0.0015, 0.00175, 0.002, 0.00225, 0.0025, 0.003, 0.0035, 0.004, 0.0045, 0.005], "range": ["#000000", "#1a0010", "#240020", "#2c0030", "#33003f", "#39004f", "#510096", "#6301ce", "#7202f3", "#8004ff", "#8c07f3", "#970bce", "#a11096", "#ab174f", "#b42000", "#c63700", "#d55700", "#e48300", "#f2ba00", "#ffff00"], "interpolate": "rgb", "clamp": true},
       "legend": {"values": [0.0000001, 0.001, 0.002, 0.003, 0.004, 0.0049999], "labelExpr": "format(round(datum.value*1000)/1000, '~g')"}}
     }},
    {"mark": {"type": "point", "opacity": 0},
     "encoding": {
      "x": {"field": "kx", "type": "quantitative", "title": null, "scale": {"domain": [-0.582, 0.582], "nice": false, "zero": false}, "axis": {"orient": "top", "values": [-0.4, -0.2, 0, 0.2, 0.4], "labels": false}},
      "y": {"field": "ky", "type": "quantitative", "title": null, "scale": {"domain": [-0.577, 0.577], "nice": false, "zero": false}, "axis": {"orient": "right", "values": [-0.4, -0.2, 0, 0.2, 0.4], "labels": false}}
     }},
    {"data": {"values": [{"t": "(a)"}]},
     "mark": {"type": "text", "align": "right", "baseline": "middle", "dx": -7, "dy": 10, "font": "Lato", "fontSize": 42, "color": "black"},
     "encoding": {
      "x": {"datum": -0.582, "type": "quantitative", "axis": null},
      "y": {"datum": 0.577, "type": "quantitative", "axis": null},
      "text": {"field": "t"}
     }},
    {"data": {"values": [{"t": "ASD [m²/s¹ᐟ²]"}]},
     "mark": {"type": "text", "angle": 270, "align": "center", "baseline": "middle", "font": "DejaVu Sans", "fontSize": 30, "color": "black"},
     "encoding": {
      "x": {"datum": 1.0763, "type": "quantitative", "axis": null},
      "y": {"datum": -0.0053, "type": "quantitative", "axis": null},
      "text": {"field": "t"}
     }},
    {"data": {"values": [{"x": 1.1666, "ytop": 0.6882, "ybot": -2.7766}]},
     "mark": {"type": "rule", "color": "black", "strokeWidth": 1},
     "encoding": {
      "x": {"field": "x", "type": "quantitative", "axis": null},
      "y": {"field": "ytop", "type": "quantitative", "axis": null},
      "y2": {"field": "ybot"}
     }}
   ],
   "resolve": {"axis": {"x": "independent", "y": "independent"}}
  },
  {
   "width": 438, "height": 436,
   "data": {"name": "b"},
   "transform": [{"flatten": ["kx", "v"]}],
   "layer": [
    {"mark": {"type": "rect", "width": 23, "height": 23, "clip": true},
     "encoding": {
      "x": {"field": "kx", "type": "quantitative", "title": "kₓ [1/m]", "scale": {"domain": [-0.582, 0.582], "nice": false, "zero": false}, "axis": {"orient": "bottom", "values": [-0.4, -0.2, 0, 0.2, 0.4], "labelPadding": 50}},
      "y": {"field": "ky", "type": "quantitative", "title": null, "scale": {"domain": [-0.577, 0.577], "nice": false, "zero": false}, "axis": {"orient": "left", "values": [-0.4, -0.2, 0, 0.2, 0.4], "labelPadding": 42}},
      "color": {"field": "v", "type": "quantitative", "title": null,
       "scale": {"domain": [0, 0.00005, 0.0001, 0.00015, 0.0002, 0.00025, 0.0005, 0.00075, 0.001, 0.00125, 0.0015, 0.00175, 0.002, 0.00225, 0.0025, 0.003, 0.0035, 0.004, 0.0045, 0.005], "range": ["#000000", "#1a0010", "#240020", "#2c0030", "#33003f", "#39004f", "#510096", "#6301ce", "#7202f3", "#8004ff", "#8c07f3", "#970bce", "#a11096", "#ab174f", "#b42000", "#c63700", "#d55700", "#e48300", "#f2ba00", "#ffff00"], "interpolate": "rgb", "clamp": true},
       "legend": {"values": [0.0000001, 0.001, 0.002, 0.003, 0.004, 0.0049999], "labelExpr": "format(round(datum.value*1000)/1000, '~g')"}}
     }},
    {"mark": {"type": "point", "opacity": 0},
     "encoding": {
      "x": {"field": "kx", "type": "quantitative", "title": null, "scale": {"domain": [-0.582, 0.582], "nice": false, "zero": false}, "axis": {"orient": "top", "values": [-0.4, -0.2, 0, 0.2, 0.4], "labels": false}},
      "y": {"field": "ky", "type": "quantitative", "title": null, "scale": {"domain": [-0.577, 0.577], "nice": false, "zero": false}, "axis": {"orient": "right", "values": [-0.4, -0.2, 0, 0.2, 0.4], "labels": false}}
     }},
    {"data": {"values": [{"t": "(b)"}]},
     "mark": {"type": "text", "align": "right", "baseline": "middle", "dx": -10, "dy": 10, "font": "Lato", "fontSize": 42, "color": "black"},
     "encoding": {
      "x": {"datum": -0.582, "type": "quantitative", "axis": null},
      "y": {"datum": 0.577, "type": "quantitative", "axis": null},
      "text": {"field": "t"}
     }},
    {"data": {"values": [{"t": "ASD [m²/s¹ᐟ²]"}]},
     "mark": {"type": "text", "angle": 270, "align": "center", "baseline": "middle", "font": "DejaVu Sans", "fontSize": 30, "color": "black"},
     "encoding": {
      "x": {"datum": 1.0763, "type": "quantitative", "axis": null},
      "y": {"datum": -0.0053, "type": "quantitative", "axis": null},
      "text": {"field": "t"}
     }}
   ],
   "resolve": {"axis": {"x": "independent", "y": "independent"}}
  },
  {
   "width": 438, "height": 436,
   "data": {"name": "c"},
   "transform": [{"flatten": ["kx", "v"]}],
   "layer": [
    {"mark": {"type": "rect", "width": 23, "height": 23, "clip": true},
     "encoding": {
      "x": {"field": "kx", "type": "quantitative", "title": "kₓ [1/m]", "scale": {"domain": [-0.582, 0.582], "nice": false, "zero": false}, "axis": {"orient": "bottom", "values": [-0.4, -0.2, 0, 0.2, 0.4], "labelPadding": 50}},
      "y": {"field": "ky", "type": "quantitative", "title": null, "scale": {"domain": [-0.577, 0.577], "nice": false, "zero": false}, "axis": {"orient": "left", "values": [-0.4, -0.2, 0, 0.2, 0.4], "labelPadding": 42}},
      "color": {"field": "v", "type": "quantitative", "title": null,
       "scale": {"domain": [0, 0.00005, 0.0001, 0.00015, 0.0002, 0.00025, 0.0005, 0.00075, 0.001, 0.00125, 0.0015, 0.00175, 0.002, 0.00225, 0.0025, 0.003, 0.0035, 0.004, 0.0045, 0.005], "range": ["#000000", "#1a0010", "#240020", "#2c0030", "#33003f", "#39004f", "#510096", "#6301ce", "#7202f3", "#8004ff", "#8c07f3", "#970bce", "#a11096", "#ab174f", "#b42000", "#c63700", "#d55700", "#e48300", "#f2ba00", "#ffff00"], "interpolate": "rgb", "clamp": true},
       "legend": {"values": [0.0000001, 0.001, 0.002, 0.003, 0.004, 0.0049999], "labelExpr": "format(round(datum.value*1000)/1000, '~g')"}}
     }},
    {"mark": {"type": "point", "opacity": 0},
     "encoding": {
      "x": {"field": "kx", "type": "quantitative", "title": null, "scale": {"domain": [-0.582, 0.582], "nice": false, "zero": false}, "axis": {"orient": "top", "values": [-0.4, -0.2, 0, 0.2, 0.4], "labels": false}},
      "y": {"field": "ky", "type": "quantitative", "title": null, "scale": {"domain": [-0.577, 0.577], "nice": false, "zero": false}, "axis": {"orient": "right", "values": [-0.4, -0.2, 0, 0.2, 0.4], "labels": false}}
     }},
    {"data": {"values": [{"t": "(c)"}]},
     "mark": {"type": "text", "align": "right", "baseline": "middle", "dx": -7, "dy": 5, "font": "Lato", "fontSize": 42, "color": "black"},
     "encoding": {
      "x": {"datum": -0.582, "type": "quantitative", "axis": null},
      "y": {"datum": 0.577, "type": "quantitative", "axis": null},
      "text": {"field": "t"}
     }},
    {"data": {"values": [{"t": "ASD [m²/s¹ᐟ²]"}]},
     "mark": {"type": "text", "angle": 270, "align": "center", "baseline": "middle", "font": "DejaVu Sans", "fontSize": 30, "color": "black"},
     "encoding": {
      "x": {"datum": 1.0763, "type": "quantitative", "axis": null},
      "y": {"datum": -0.0053, "type": "quantitative", "axis": null},
      "text": {"field": "t"}
     }}
   ],
   "resolve": {"axis": {"x": "independent", "y": "independent"}}
  },
  {
   "width": 438, "height": 436,
   "data": {"name": "d"},
   "transform": [{"flatten": ["kx", "v"]}],
   "layer": [
    {"mark": {"type": "rect", "width": 23, "height": 23, "clip": true},
     "encoding": {
      "x": {"field": "kx", "type": "quantitative", "title": "kₓ [1/m]", "scale": {"domain": [-0.582, 0.582], "nice": false, "zero": false}, "axis": {"orient": "bottom", "values": [-0.4, -0.2, 0, 0.2, 0.4], "labelPadding": 50}},
      "y": {"field": "ky", "type": "quantitative", "title": null, "scale": {"domain": [-0.577, 0.577], "nice": false, "zero": false}, "axis": {"orient": "left", "values": [-0.4, -0.2, 0, 0.2, 0.4], "labelPadding": 42}},
      "color": {"field": "v", "type": "quantitative", "title": null,
       "scale": {"domain": [0, 0.00005, 0.0001, 0.00015, 0.0002, 0.00025, 0.0005, 0.00075, 0.001, 0.00125, 0.0015, 0.00175, 0.002, 0.00225, 0.0025, 0.003, 0.0035, 0.004, 0.0045, 0.005], "range": ["#000000", "#1a0010", "#240020", "#2c0030", "#33003f", "#39004f", "#510096", "#6301ce", "#7202f3", "#8004ff", "#8c07f3", "#970bce", "#a11096", "#ab174f", "#b42000", "#c63700", "#d55700", "#e48300", "#f2ba00", "#ffff00"], "interpolate": "rgb", "clamp": true},
       "legend": {"values": [0.0000001, 0.001, 0.002, 0.003, 0.004, 0.0049999], "labelExpr": "format(round(datum.value*1000)/1000, '~g')"}}
     }},
    {"mark": {"type": "point", "opacity": 0},
     "encoding": {
      "x": {"field": "kx", "type": "quantitative", "title": null, "scale": {"domain": [-0.582, 0.582], "nice": false, "zero": false}, "axis": {"orient": "top", "values": [-0.4, -0.2, 0, 0.2, 0.4], "labels": false}},
      "y": {"field": "ky", "type": "quantitative", "title": null, "scale": {"domain": [-0.577, 0.577], "nice": false, "zero": false}, "axis": {"orient": "right", "values": [-0.4, -0.2, 0, 0.2, 0.4], "labels": false}}
     }},
    {"data": {"values": [{"t": "(d)"}]},
     "mark": {"type": "text", "align": "right", "baseline": "middle", "dx": -10, "dy": 5, "font": "Lato", "fontSize": 42, "color": "black"},
     "encoding": {
      "x": {"datum": -0.582, "type": "quantitative", "axis": null},
      "y": {"datum": 0.577, "type": "quantitative", "axis": null},
      "text": {"field": "t"}
     }},
    {"data": {"values": [{"t": "ASD [m²/s¹ᐟ²]"}]},
     "mark": {"type": "text", "angle": 270, "align": "center", "baseline": "middle", "font": "DejaVu Sans", "fontSize": 30, "color": "black"},
     "encoding": {
      "x": {"datum": 1.0763, "type": "quantitative", "axis": null},
      "y": {"datum": -0.0053, "type": "quantitative", "axis": null},
      "text": {"field": "t"}
     }}
   ],
   "resolve": {"axis": {"x": "independent", "y": "independent"}}
  }
 ],
 "columns": 2,
 "spacing": {"row": 248, "column": 326},
 "bounds": "flush",
 "resolve": {"scale": {"color": "independent"}, "legend": {"color": "independent"}},
 "config": {
  "view": {"stroke": null},
  "axis": {"tickSize": -10, "tickColor": "black", "tickWidth": 1, "domainColor": "black", "domainWidth": 1, "grid": false, "zindex": 1, "labelFont": "DejaVu Sans", "labelFontSize": 30, "labelColor": "black", "labelOverlap": false, "labelExpr": "datum.value == 0 ? '0' : replace(datum.label, '−', '-')", "titleFont": "DejaVu Sans", "titleFontSize": 30, "titleFontWeight": "normal", "titleColor": "black", "titlePadding": 38},
  "legend": {"orient": "right", "offset": 11, "padding": 0, "gradientLength": 436, "gradientThickness": 21, "gradientStrokeColor": "black", "gradientStrokeWidth": 1, "labelFont": "DejaVu Sans", "labelFontSize": 30, "labelColor": "black", "gradientLabelOffset": 29, "labelOffset": 29, "labelOverlap": false}
 }
}
